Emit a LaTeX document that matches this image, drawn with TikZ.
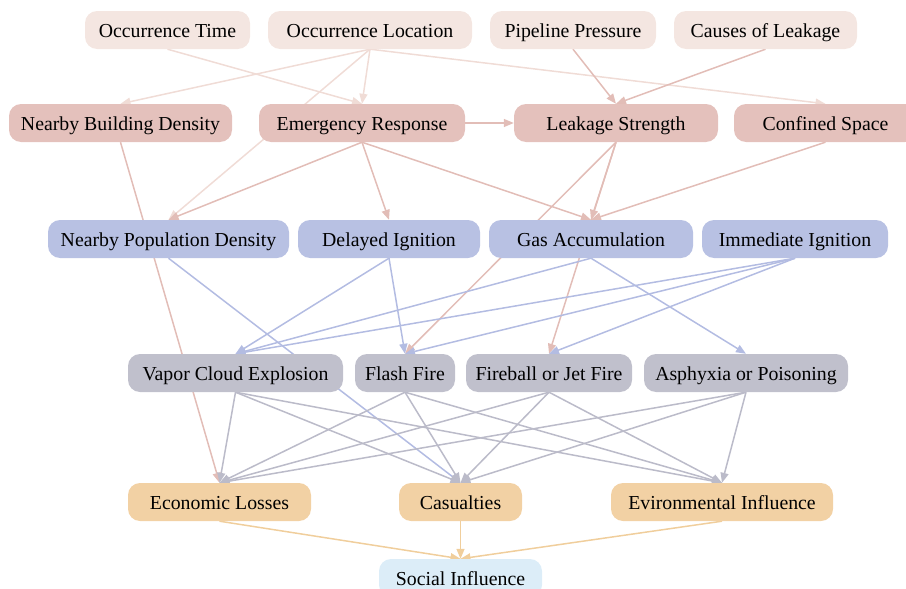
\documentclass[tikz,border=0pt]{standalone}
\usepackage{fontspec}
\setmainfont{Liberation Serif}
\usetikzlibrary{arrows.meta, backgrounds}

\definecolor{causefill}{HTML}{F4E6E1}
\definecolor{factorfill}{HTML}{E4C1BC}
\definecolor{condfill}{HTML}{B8C1E3}
\definecolor{eventfill}{HTML}{C0C0CC}
\definecolor{resultfill}{HTML}{F2D1A4}
\definecolor{socialfill}{HTML}{DCEDF8}
\definecolor{causeline}{HTML}{F0DCD6}
\definecolor{factorline}{HTML}{E2BDB7}
\definecolor{condline}{HTML}{B3BCE2}
\definecolor{eventline}{HTML}{BBBBC9}
\definecolor{resultline}{HTML}{F0CE9C}

\begin{document}
\begin{tikzpicture}[x=1pt, y=-1pt]
	\tikzstyle{box} = [rectangle, rounded corners=12pt, minimum height=38pt, inner sep=0pt, text height=14.6pt, text depth=0pt, font=\fontsize{19.8}{24}\selectfont]
	\tikzstyle{cause} = [box, fill=causefill]
	\tikzstyle{factor} = [box, fill=factorfill]
	\tikzstyle{cond} = [box, fill=condfill]
	\tikzstyle{event} = [box, fill=eventfill]
	\tikzstyle{result} = [box, fill=resultfill]
	\tikzstyle{social} = [box, fill=socialfill]
	\tikzstyle{link} = [-{Triangle[length=10pt, width=8pt]}, line width=1.5pt]

	\useasboundingbox (0,0) rectangle (906,589);

	% causes
	\node[cause, minimum width=165pt] 	at (167.5, 30)	(occTime)	{Occurrence Time};
	\node[cause, minimum width=204pt] 	at (370, 30)	(occLoc)	{Occurrence Location};
	\node[cause, minimum width=166pt] 	at (573, 30)	(pipePress)	{Pipeline Pressure};
	\node[cause, minimum width=183pt] 	at (765.5, 30)	(leakCause)	{Causes of Leakage};

	% factors
	\node[factor, minimum width=223pt] 	at (120.5, 123)	(bldgDens)	{Nearby Building Density};
	\node[factor, minimum width=206pt] 	at (362, 123)	(emergResp)	{Emergency Response};
	\node[factor, minimum width=204pt] 	at (616, 123)	(leakStr)	{Leakage Strength};
	\node[factor, minimum width=183pt] 	at (825.5, 123)	(confSpace)	{Confined Space};

	% conditions
	\node[cond, minimum width=241pt] 	at (168.5, 239)	(popDens)	{Nearby Population Density};
	\node[cond, minimum width=182pt] 	at (389, 239)	(delayIgn)	{Delayed Ignition};
	\node[cond, minimum width=204pt] 	at (591, 239)	(gasAcc)	{Gas Accumulation};
	\node[cond, minimum width=186pt] 	at (795, 239)	(immIgn)	{Immediate Ignition};

	% events
	\node[event, minimum width=215pt] 	at (235.5, 373)	(vce)		{Vapor Cloud Explosion};
	\node[event, minimum width=100pt] 	at (405, 373)	(flash)		{Flash Fire};
	\node[event, minimum width=166pt] 	at (549, 373)	(fireball)	{Fireball or Jet Fire};
	\node[event, minimum width=204pt] 	at (746, 373)	(asphyx)	{Asphyxia or Poisoning};

	% results
	\node[result, minimum width=183pt] 	at (219.5, 502)	(econ)		{Economic Losses};
	\node[result, minimum width=123pt] 	at (460.5, 502)	(casual)	{Casualties};
	\node[result, minimum width=222pt] 	at (722, 502)	(envir)		{Evironmental Influence};

	\node[social, minimum width=163pt] 	at (460.5, 578)	(social)	{Social Influence};

	\begin{pgfonlayer}{background}
	\draw[link, causeline] (occTime.south) -- (emergResp.north);
	\draw[link, causeline] (occLoc.south) -- (bldgDens.north);
	\draw[link, causeline] (occLoc.south) -- (emergResp.north);
	\draw[link, causeline] (occLoc.south) -- (popDens.north);
	\draw[link, causeline] (occLoc.south) -- (confSpace.north);

	\draw[link, factorline] (pipePress.south) -- (leakStr.north);
	\draw[link, factorline] (leakCause.south) -- (leakStr.north);
	\draw[link, factorline] (emergResp.east) -- (leakStr.west);
	\draw[link, factorline] (emergResp.south) -- (popDens.north);
	\draw[link, factorline] (emergResp.south) -- (delayIgn.north);
	\draw[link, factorline] (emergResp.south) -- (gasAcc.north);
	\draw[link, factorline] (leakStr.south) -- (gasAcc.north);
	\draw[link, factorline] (leakStr.south) -- (flash.north);
	\draw[link, factorline] (leakStr.south) -- (fireball.north);
	\draw[link, factorline] (confSpace.south) -- (gasAcc.north);
	\draw[link, factorline] (bldgDens.south) -- (econ.north);

	\draw[link, condline] (popDens.south) -- (casual.north);
	\draw[link, condline] (delayIgn.south) -- (vce.north);
	\draw[link, condline] (delayIgn.south) -- (flash.north);
	\draw[link, condline] (gasAcc.south) -- (vce.north);
	\draw[link, condline] (gasAcc.south) -- (asphyx.north);
	\draw[link, condline] (immIgn.south) -- (vce.north);
	\draw[link, condline] (immIgn.south) -- (flash.north);
	\draw[link, condline] (immIgn.south) -- (fireball.north);

	\draw[link, eventline] (vce.south) -- (econ.north);
	\draw[link, eventline] (vce.south) -- (casual.north);
	\draw[link, eventline] (vce.south) -- (envir.north);
	\draw[link, eventline] (flash.south) -- (econ.north);
	\draw[link, eventline] (flash.south) -- (casual.north);
	\draw[link, eventline] (flash.south) -- (envir.north);
	\draw[link, eventline] (fireball.south) -- (econ.north);
	\draw[link, eventline] (fireball.south) -- (casual.north);
	\draw[link, eventline] (fireball.south) -- (envir.north);
	\draw[link, eventline] (asphyx.south) -- (econ.north);
	\draw[link, eventline] (asphyx.south) -- (casual.north);
	\draw[link, eventline] (asphyx.south) -- (envir.north);

	\draw[link, resultline] (econ.south) -- (social.north);
	\draw[link, resultline] (casual.south) -- (social.north);
	\draw[link, resultline] (envir.south) -- (social.north);
	\end{pgfonlayer}
\end{tikzpicture}
\end{document}
